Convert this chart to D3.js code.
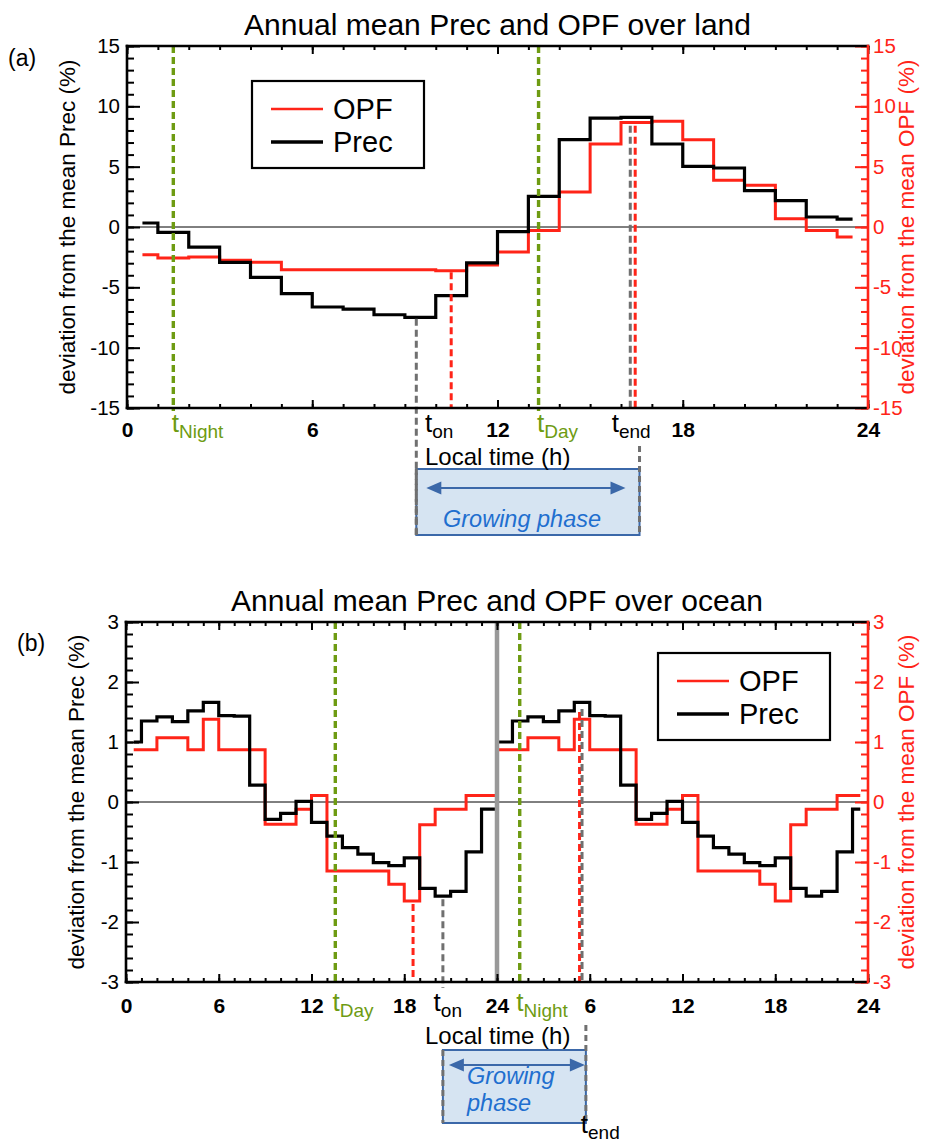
<!DOCTYPE html>
<html>
<head>
<meta charset="utf-8">
<script src="https://cdn.jsdelivr.net/npm/d3@7"></script>
<style>
  body { margin: 0; background: #fff; }
  text { font-family: 'Liberation Sans', Arial, Helvetica, sans-serif; }
</style>
</head>
<body>
<svg id="chart" width="931" height="1145"></svg>
<script>
// deviation from the mean (%), one value per hourly bin, centred on 0.5, 1.5 ... 23.5 h
const landPrec  = [0.33, -0.44, -1.66, -2.93, -4.17, -5.52, -6.63, -6.8, -7.27, -7.49, -5.69, -2.98,
                   -0.39, 2.54, 7.24, 9.03, 9.09, 6.88, 5.03, 4.89, 3.01, 2.18, 0.83, 0.66];
const landOPF   = [-2.29, -2.57, -2.49, -2.76, -2.93, -3.54, -3.54, -3.54, -3.54, -3.54, -3.62, -3.15,
                   -2.07, -0.3, 2.9, 6.88, 8.67, 8.76, 7.24, 3.87, 3.45, 0.69, -0.3, -0.83];
const oceanPrec = [1.0, 1.35, 1.42, 1.34, 1.52, 1.66, 1.44, 1.43, 0.28, -0.29, -0.19, 0.01,
                   -0.34, -0.57, -0.76, -0.87, -1.01, -1.06, -0.93, -1.44, -1.57, -1.49, -0.83, -0.12];
const oceanOPF  = [0.87, 0.87, 1.07, 1.07, 0.87, 1.38, 0.87, 0.87, 0.87, -0.37, -0.37, -0.12,
                   0.11, -1.15, -1.15, -1.15, -1.15, -1.37, -1.65, -0.38, -0.12, -0.12, 0.11, 0.11];

const landXTicks  = [0, 6, 12, 18, 24];
const oceanXTicks = [0, 6, 12, 18, 24, 30, 36, 42, 48];

// characteristic times (h) : tNight/tDay, onset and end of the growing phase
const landMarks = [
  {t: 1.5,   kind: "green", top: 15,    ext: 3},
  {t: 9.37,  kind: "gray",  top: -7.6,  ext: 127},
  {t: 10.5,  kind: "red",   top: -3.75, ext: 0},
  {t: 13.33, kind: "green", top: 15,    ext: 3},
  {t: 16.3,  kind: "gray",  top: 8.4,   ext: 0},
  {t: 16.46, kind: "red",   top: 8.4,   ext: 0}
];
const oceanMarks = [
  {t: 13.54, kind: "green", top: 3,     ext: 3},
  {t: 18.57, kind: "red",   top: -1.7,  ext: 0},
  {t: 20.5,  kind: "gray",  top: -1.62, ext: 6},
  {t: 25.47, kind: "green", top: 3,     ext: 3},
  {t: 29.34, kind: "red",   top: 1.5,   ext: 0},
  {t: 29.5,  kind: "gray",  top: 1.55,  ext: 0}
];
const landTLabels = [
  {t: 1.45,  sub: "Night", kind: "green"},
  {t: 9.65,  sub: "on",    kind: "black"},
  {t: 13.28, sub: "Day",   kind: "green"},
  {t: 15.7,  sub: "end",   kind: "black"}
];
const oceanTLabels = [
  {t: 13.36, sub: "Day",   kind: "green"},
  {t: 19.9,  sub: "on",    kind: "black"},
  {t: 25.25, sub: "Night", kind: "green"},
  {t: 29.42, sub: "end",   kind: "black", low: true}
];

const COL = {red: "#ff2418", green: "#6e9b12", gray: "#707070", black: "#000"};
const BOX_FILL = "#d6e4f2", BOX_LINE = "#3b68a9", BLUE_TXT = "#1f6fcf";

const svg = d3.select("#chart");

function series(vals, reps) {
  const out = [];
  for (let r = 0; r < reps; r++) vals.forEach((v, i) => out.push({h: r * 24 + i + 0.5, v: v}));
  return out;
}

function drawPanel(p) {
  const x = d3.scaleLinear().domain([0, p.xMax]).range([p.left, p.right]);
  const y = d3.scaleLinear().domain([-p.yMax, p.yMax]).range([p.bottom, p.top]);
  const g = svg.append("g");

  g.append("text").attr("x", (p.left + p.right) / 2).attr("y", p.top - 11)
    .attr("text-anchor", "middle").attr("font-size", 30).text(p.title);
  g.append("text").attr("x", p.letterX).attr("y", p.letterY).attr("font-size", 23).text(p.letter);

  // zero line
  g.append("line").attr("x1", p.left).attr("x2", p.right).attr("y1", y(0)).attr("y2", y(0))
    .attr("stroke", "#000").attr("stroke-width", 1);

  // step curves (IDL histogram style: change at midpoint between samples)
  const line = d3.line().x(d => x(d.h)).y(d => y(d.v)).curve(d3.curveStep);
  g.append("path").datum(series(p.opf, p.reps)).attr("d", line)
    .attr("fill", "none").attr("stroke", COL.red).attr("stroke-width", 3);
  g.append("path").datum(series(p.prec, p.reps)).attr("d", line)
    .attr("fill", "none").attr("stroke", "#000").attr("stroke-width", 3.2);

  if (p.reps > 1) {
    g.append("line").attr("x1", x(24)).attr("x2", x(24)).attr("y1", p.top).attr("y2", p.bottom)
      .attr("stroke", "#999").attr("stroke-width", 4.5);
  }

  // growing phase box
  const b = p.box;
  g.append("rect").attr("x", x(b.t0)).attr("y", b.y0).attr("width", x(b.t1) - x(b.t0)).attr("height", b.y1 - b.y0)
    .attr("fill", BOX_FILL).attr("stroke", BOX_LINE).attr("stroke-width", 2);
  const ay = b.arrowY, ax0 = x(b.t0) + b.arrowIn[0], ax1 = x(b.t1) - b.arrowIn[1];
  g.append("line").attr("x1", ax0 + 8).attr("x2", ax1 - 8).attr("y1", ay).attr("y2", ay)
    .attr("stroke", BOX_LINE).attr("stroke-width", 2);
  g.append("path").attr("d", `M${ax0},${ay}L${ax0 + 15},${ay - 6.5}L${ax0 + 15},${ay + 6.5}Z`).attr("fill", BOX_LINE);
  g.append("path").attr("d", `M${ax1},${ay}L${ax1 - 15},${ay - 6.5}L${ax1 - 15},${ay + 6.5}Z`).attr("fill", BOX_LINE);
  b.lines.forEach((s, i) => {
    g.append("text").attr("x", b.textX).attr("y", b.textY + i * 27).attr("font-size", 23.5)
      .attr("font-style", "italic").attr("fill", BLUE_TXT).text(s);
  });
  // dashed edges of the box
  g.append("line").attr("x1", x(b.t0)).attr("x2", x(b.t0)).attr("y1", b.leftDash[0]).attr("y2", b.leftDash[1])
    .attr("stroke", COL.gray).attr("stroke-width", 3).attr("stroke-dasharray", "6,4");
  g.append("line").attr("x1", x(b.t1)).attr("x2", x(b.t1)).attr("y1", b.rightDash[0]).attr("y2", b.rightDash[1])
    .attr("stroke", COL.gray).attr("stroke-width", 3).attr("stroke-dasharray", "6,4");

  // vertical markers
  g.selectAll(".mark").data(p.marks).enter().append("line")
    .attr("x1", d => x(d.t)).attr("x2", d => x(d.t))
    .attr("y1", d => y(d.top)).attr("y2", d => p.bottom + d.ext)
    .attr("stroke", d => COL[d.kind]).attr("stroke-width", d => d.kind === "green" ? 3.4 : 3)
    .attr("stroke-dasharray", "7,4");

  // axes
  const fmt = d => String(d);
  const yMajor = d3.range(-p.yMax, p.yMax + 1e-9, p.yMajor);
  const yMinor = d3.range(-p.yMax, p.yMax + 1e-9, p.yMinor);
  const xMinor = d3.range(0, p.xMax + 1);
  function put(axis, tx, ty, color, size, weight) {
    const a = g.append("g").attr("transform", `translate(${tx},${ty})`).call(axis)
      .attr("font-family", null).attr("font-size", size).attr("font-weight", weight || null);
    a.select(".domain").remove();
    a.selectAll("line").attr("stroke", color).attr("stroke-width", 2);
    a.selectAll("text").attr("fill", color);
    return a;
  }
  put(d3.axisLeft(y).tickValues(yMinor).tickSize(-7).tickFormat(""), p.left, 0, "#000", 20);
  put(d3.axisLeft(y).tickValues(yMajor).tickSize(-13).tickPadding(7).tickFormat(fmt), p.left, 0, "#000", 20.5);
  put(d3.axisRight(y).tickValues(yMinor).tickSize(-7).tickFormat(""), p.right, 0, COL.red, 20);
  put(d3.axisRight(y).tickValues(yMajor).tickSize(-13).tickPadding(5).tickFormat(fmt), p.right, 0, COL.red, 20.5);
  put(d3.axisTop(x).tickValues(xMinor).tickSize(-4).tickFormat(""), 0, p.top, "#000", 20);
  put(d3.axisTop(x).tickValues(p.xTicks).tickSize(-8).tickFormat(""), 0, p.top, "#000", 20);
  put(d3.axisBottom(x).tickValues(xMinor).tickSize(-4).tickFormat(""), 0, p.bottom, "#000", 20);
  put(d3.axisBottom(x).tickValues(p.xTicks).tickSize(-8).tickPadding(p.xPad)
      .tickFormat(d => d === 0 ? "0" : String(d % 24 === 0 ? 24 : d % 24)), 0, p.bottom, "#000", 21, "bold");

  // frame
  const fr = [[p.left, p.top, p.left, p.bottom, "#000"], [p.left, p.top, p.right, p.top, "#000"],
              [p.left, p.bottom, p.right, p.bottom, "#000"], [p.right, p.top, p.right, p.bottom, COL.red]];
  fr.forEach(f => g.append("line").attr("x1", f[0]).attr("y1", f[1]).attr("x2", f[2]).attr("y2", f[3])
    .attr("stroke", f[4]).attr("stroke-width", 2.6).attr("stroke-linecap", "square"));

  // axis titles
  const yc = (p.top + p.bottom) / 2;
  g.append("text").attr("transform", `translate(${p.yLabelX},${yc}) rotate(-90)`).attr("text-anchor", "middle")
    .attr("font-size", 22.5).text("deviation from the mean Prec (%)");
  g.append("text").attr("transform", `translate(914,${yc}) rotate(-90)`).attr("text-anchor", "middle")
    .attr("font-size", 22.5).attr("fill", COL.red).text("deviation from the mean OPF (%)");
  g.append("text").attr("x", 425).attr("y", p.localY).attr("font-size", 24).text("Local time (h)");

  // t labels
  p.tLabels.forEach(l => {
    const base = l.low ? p.lowLabelY : p.tLabelY;
    const t = g.append("text").attr("x", x(l.t)).attr("y", base).attr("fill", COL[l.kind]);
    t.append("tspan").attr("font-size", 26).text("t");
    t.append("tspan").attr("font-size", 19).attr("dy", 6).text(l.sub);
  });

  // legend
  const L = p.legend;
  g.append("rect").attr("x", L.x).attr("y", L.y).attr("width", 172).attr("height", 87)
    .attr("fill", "#fff").attr("stroke", "#000").attr("stroke-width", 2.2);
  [["OPF", COL.red, 2.6, 28], ["Prec", "#000", 3.4, 61]].forEach(e => {
    g.append("line").attr("x1", L.x + 19).attr("x2", L.x + 71).attr("y1", L.y + e[3]).attr("y2", L.y + e[3])
      .attr("stroke", e[1]).attr("stroke-width", e[2]);
    g.append("text").attr("x", L.x + 81).attr("y", L.y + e[3] + 10).attr("font-size", 29).text(e[0]);
  });
}

drawPanel({
  title: "Annual mean Prec and OPF over land", letter: "(a)", letterX: 8, letterY: 66,
  left: 127, right: 868, top: 46, bottom: 408, xMax: 24, yMax: 15, yMajor: 5, yMinor: 1,
  xTicks: landXTicks, xPad: 14, reps: 1, prec: landPrec, opf: landOPF, marks: landMarks,
  tLabels: landTLabels, tLabelY: 432, localY: 465, yLabelX: 75,
  box: {t0: 9.37, t1: 16.6, y0: 469, y1: 535, arrowY: 488, arrowIn: [10, 14],
        textX: 443, textY: 527, lines: ["Growing phase"], leftDash: [469, 535], rightDash: [446, 535]},
  legend: {x: 252, y: 81}
});

drawPanel({
  title: "Annual mean Prec and OPF over ocean", letter: "(b)", letterX: 17, letterY: 651,
  left: 126, right: 868, top: 622, bottom: 982, xMax: 48, yMax: 3, yMajor: 1, yMinor: 0.2,
  xTicks: oceanXTicks, xPad: 16, reps: 2, prec: oceanPrec, opf: oceanOPF, marks: oceanMarks,
  tLabels: oceanTLabels, tLabelY: 1011, lowLabelY: 1133, localY: 1044, yLabelX: 84,
  box: {t0: 20.5, t1: 29.75, y0: 1050, y1: 1123, arrowY: 1065, arrowIn: [6, 1],
        textX: 467, textY: 1084, lines: ["Growing", "phase"], leftDash: [1050, 1123], rightDash: [1025, 1123]},
  legend: {x: 658, y: 653}
});
</script>
</body>
</html>
